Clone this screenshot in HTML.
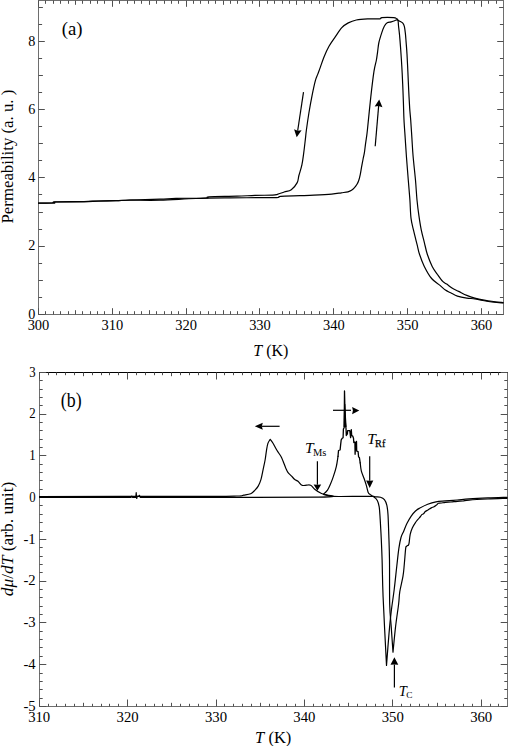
<!DOCTYPE html>
<html><head><meta charset="utf-8"><title>Permeability</title>
<style>html,body{margin:0;padding:0;background:#fff;}body{width:508px;height:746px;overflow:hidden;font-family:"Liberation Serif",serif;}svg{display:block;}</style>
</head><body>
<svg width="508" height="746" viewBox="0 0 508 746" font-family="'Liberation Serif', serif" fill="#000"><rect x="38.5" y="0.5" width="465.0" height="314.0" fill="none" stroke="#6e6e6e" stroke-width="1"/>
<line x1="38.50" y1="314.50" x2="38.50" y2="308.20" stroke="#505050" stroke-width="1"/>
<line x1="38.50" y1="0.50" x2="38.50" y2="6.80" stroke="#505050" stroke-width="1"/>
<line x1="45.50" y1="314.50" x2="45.50" y2="311.20" stroke="#505050" stroke-width="1"/>
<line x1="45.50" y1="0.50" x2="45.50" y2="3.80" stroke="#505050" stroke-width="1"/>
<line x1="53.50" y1="314.50" x2="53.50" y2="311.20" stroke="#505050" stroke-width="1"/>
<line x1="53.50" y1="0.50" x2="53.50" y2="3.80" stroke="#505050" stroke-width="1"/>
<line x1="60.50" y1="314.50" x2="60.50" y2="311.20" stroke="#505050" stroke-width="1"/>
<line x1="60.50" y1="0.50" x2="60.50" y2="3.80" stroke="#505050" stroke-width="1"/>
<line x1="68.50" y1="314.50" x2="68.50" y2="311.20" stroke="#505050" stroke-width="1"/>
<line x1="68.50" y1="0.50" x2="68.50" y2="3.80" stroke="#505050" stroke-width="1"/>
<line x1="75.50" y1="314.50" x2="75.50" y2="310.20" stroke="#505050" stroke-width="1"/>
<line x1="75.50" y1="0.50" x2="75.50" y2="4.80" stroke="#505050" stroke-width="1"/>
<line x1="82.50" y1="314.50" x2="82.50" y2="311.20" stroke="#505050" stroke-width="1"/>
<line x1="82.50" y1="0.50" x2="82.50" y2="3.80" stroke="#505050" stroke-width="1"/>
<line x1="90.50" y1="314.50" x2="90.50" y2="311.20" stroke="#505050" stroke-width="1"/>
<line x1="90.50" y1="0.50" x2="90.50" y2="3.80" stroke="#505050" stroke-width="1"/>
<line x1="97.50" y1="314.50" x2="97.50" y2="311.20" stroke="#505050" stroke-width="1"/>
<line x1="97.50" y1="0.50" x2="97.50" y2="3.80" stroke="#505050" stroke-width="1"/>
<line x1="104.50" y1="314.50" x2="104.50" y2="311.20" stroke="#505050" stroke-width="1"/>
<line x1="104.50" y1="0.50" x2="104.50" y2="3.80" stroke="#505050" stroke-width="1"/>
<line x1="112.50" y1="314.50" x2="112.50" y2="308.20" stroke="#505050" stroke-width="1"/>
<line x1="112.50" y1="0.50" x2="112.50" y2="6.80" stroke="#505050" stroke-width="1"/>
<line x1="119.50" y1="314.50" x2="119.50" y2="311.20" stroke="#505050" stroke-width="1"/>
<line x1="119.50" y1="0.50" x2="119.50" y2="3.80" stroke="#505050" stroke-width="1"/>
<line x1="127.50" y1="314.50" x2="127.50" y2="311.20" stroke="#505050" stroke-width="1"/>
<line x1="127.50" y1="0.50" x2="127.50" y2="3.80" stroke="#505050" stroke-width="1"/>
<line x1="134.50" y1="314.50" x2="134.50" y2="311.20" stroke="#505050" stroke-width="1"/>
<line x1="134.50" y1="0.50" x2="134.50" y2="3.80" stroke="#505050" stroke-width="1"/>
<line x1="141.50" y1="314.50" x2="141.50" y2="311.20" stroke="#505050" stroke-width="1"/>
<line x1="141.50" y1="0.50" x2="141.50" y2="3.80" stroke="#505050" stroke-width="1"/>
<line x1="149.50" y1="314.50" x2="149.50" y2="310.20" stroke="#505050" stroke-width="1"/>
<line x1="149.50" y1="0.50" x2="149.50" y2="4.80" stroke="#505050" stroke-width="1"/>
<line x1="156.50" y1="314.50" x2="156.50" y2="311.20" stroke="#505050" stroke-width="1"/>
<line x1="156.50" y1="0.50" x2="156.50" y2="3.80" stroke="#505050" stroke-width="1"/>
<line x1="164.50" y1="314.50" x2="164.50" y2="311.20" stroke="#505050" stroke-width="1"/>
<line x1="164.50" y1="0.50" x2="164.50" y2="3.80" stroke="#505050" stroke-width="1"/>
<line x1="171.50" y1="314.50" x2="171.50" y2="311.20" stroke="#505050" stroke-width="1"/>
<line x1="171.50" y1="0.50" x2="171.50" y2="3.80" stroke="#505050" stroke-width="1"/>
<line x1="178.50" y1="314.50" x2="178.50" y2="311.20" stroke="#505050" stroke-width="1"/>
<line x1="178.50" y1="0.50" x2="178.50" y2="3.80" stroke="#505050" stroke-width="1"/>
<line x1="186.50" y1="314.50" x2="186.50" y2="308.20" stroke="#505050" stroke-width="1"/>
<line x1="186.50" y1="0.50" x2="186.50" y2="6.80" stroke="#505050" stroke-width="1"/>
<line x1="193.50" y1="314.50" x2="193.50" y2="311.20" stroke="#505050" stroke-width="1"/>
<line x1="193.50" y1="0.50" x2="193.50" y2="3.80" stroke="#505050" stroke-width="1"/>
<line x1="200.50" y1="314.50" x2="200.50" y2="311.20" stroke="#505050" stroke-width="1"/>
<line x1="200.50" y1="0.50" x2="200.50" y2="3.80" stroke="#505050" stroke-width="1"/>
<line x1="208.50" y1="314.50" x2="208.50" y2="311.20" stroke="#505050" stroke-width="1"/>
<line x1="208.50" y1="0.50" x2="208.50" y2="3.80" stroke="#505050" stroke-width="1"/>
<line x1="215.50" y1="314.50" x2="215.50" y2="311.20" stroke="#505050" stroke-width="1"/>
<line x1="215.50" y1="0.50" x2="215.50" y2="3.80" stroke="#505050" stroke-width="1"/>
<line x1="223.50" y1="314.50" x2="223.50" y2="310.20" stroke="#505050" stroke-width="1"/>
<line x1="223.50" y1="0.50" x2="223.50" y2="4.80" stroke="#505050" stroke-width="1"/>
<line x1="230.50" y1="314.50" x2="230.50" y2="311.20" stroke="#505050" stroke-width="1"/>
<line x1="230.50" y1="0.50" x2="230.50" y2="3.80" stroke="#505050" stroke-width="1"/>
<line x1="237.50" y1="314.50" x2="237.50" y2="311.20" stroke="#505050" stroke-width="1"/>
<line x1="237.50" y1="0.50" x2="237.50" y2="3.80" stroke="#505050" stroke-width="1"/>
<line x1="245.50" y1="314.50" x2="245.50" y2="311.20" stroke="#505050" stroke-width="1"/>
<line x1="245.50" y1="0.50" x2="245.50" y2="3.80" stroke="#505050" stroke-width="1"/>
<line x1="252.50" y1="314.50" x2="252.50" y2="311.20" stroke="#505050" stroke-width="1"/>
<line x1="252.50" y1="0.50" x2="252.50" y2="3.80" stroke="#505050" stroke-width="1"/>
<line x1="259.50" y1="314.50" x2="259.50" y2="308.20" stroke="#505050" stroke-width="1"/>
<line x1="259.50" y1="0.50" x2="259.50" y2="6.80" stroke="#505050" stroke-width="1"/>
<line x1="267.50" y1="314.50" x2="267.50" y2="311.20" stroke="#505050" stroke-width="1"/>
<line x1="267.50" y1="0.50" x2="267.50" y2="3.80" stroke="#505050" stroke-width="1"/>
<line x1="274.50" y1="314.50" x2="274.50" y2="311.20" stroke="#505050" stroke-width="1"/>
<line x1="274.50" y1="0.50" x2="274.50" y2="3.80" stroke="#505050" stroke-width="1"/>
<line x1="282.50" y1="314.50" x2="282.50" y2="311.20" stroke="#505050" stroke-width="1"/>
<line x1="282.50" y1="0.50" x2="282.50" y2="3.80" stroke="#505050" stroke-width="1"/>
<line x1="289.50" y1="314.50" x2="289.50" y2="311.20" stroke="#505050" stroke-width="1"/>
<line x1="289.50" y1="0.50" x2="289.50" y2="3.80" stroke="#505050" stroke-width="1"/>
<line x1="296.50" y1="314.50" x2="296.50" y2="310.20" stroke="#505050" stroke-width="1"/>
<line x1="296.50" y1="0.50" x2="296.50" y2="4.80" stroke="#505050" stroke-width="1"/>
<line x1="304.50" y1="314.50" x2="304.50" y2="311.20" stroke="#505050" stroke-width="1"/>
<line x1="304.50" y1="0.50" x2="304.50" y2="3.80" stroke="#505050" stroke-width="1"/>
<line x1="311.50" y1="314.50" x2="311.50" y2="311.20" stroke="#505050" stroke-width="1"/>
<line x1="311.50" y1="0.50" x2="311.50" y2="3.80" stroke="#505050" stroke-width="1"/>
<line x1="319.50" y1="314.50" x2="319.50" y2="311.20" stroke="#505050" stroke-width="1"/>
<line x1="319.50" y1="0.50" x2="319.50" y2="3.80" stroke="#505050" stroke-width="1"/>
<line x1="326.50" y1="314.50" x2="326.50" y2="311.20" stroke="#505050" stroke-width="1"/>
<line x1="326.50" y1="0.50" x2="326.50" y2="3.80" stroke="#505050" stroke-width="1"/>
<line x1="333.50" y1="314.50" x2="333.50" y2="308.20" stroke="#505050" stroke-width="1"/>
<line x1="333.50" y1="0.50" x2="333.50" y2="6.80" stroke="#505050" stroke-width="1"/>
<line x1="341.50" y1="314.50" x2="341.50" y2="311.20" stroke="#505050" stroke-width="1"/>
<line x1="341.50" y1="0.50" x2="341.50" y2="3.80" stroke="#505050" stroke-width="1"/>
<line x1="348.50" y1="314.50" x2="348.50" y2="311.20" stroke="#505050" stroke-width="1"/>
<line x1="348.50" y1="0.50" x2="348.50" y2="3.80" stroke="#505050" stroke-width="1"/>
<line x1="355.50" y1="314.50" x2="355.50" y2="311.20" stroke="#505050" stroke-width="1"/>
<line x1="355.50" y1="0.50" x2="355.50" y2="3.80" stroke="#505050" stroke-width="1"/>
<line x1="363.50" y1="314.50" x2="363.50" y2="311.20" stroke="#505050" stroke-width="1"/>
<line x1="363.50" y1="0.50" x2="363.50" y2="3.80" stroke="#505050" stroke-width="1"/>
<line x1="370.50" y1="314.50" x2="370.50" y2="310.20" stroke="#505050" stroke-width="1"/>
<line x1="370.50" y1="0.50" x2="370.50" y2="4.80" stroke="#505050" stroke-width="1"/>
<line x1="378.50" y1="314.50" x2="378.50" y2="311.20" stroke="#505050" stroke-width="1"/>
<line x1="378.50" y1="0.50" x2="378.50" y2="3.80" stroke="#505050" stroke-width="1"/>
<line x1="385.50" y1="314.50" x2="385.50" y2="311.20" stroke="#505050" stroke-width="1"/>
<line x1="385.50" y1="0.50" x2="385.50" y2="3.80" stroke="#505050" stroke-width="1"/>
<line x1="392.50" y1="314.50" x2="392.50" y2="311.20" stroke="#505050" stroke-width="1"/>
<line x1="392.50" y1="0.50" x2="392.50" y2="3.80" stroke="#505050" stroke-width="1"/>
<line x1="400.50" y1="314.50" x2="400.50" y2="311.20" stroke="#505050" stroke-width="1"/>
<line x1="400.50" y1="0.50" x2="400.50" y2="3.80" stroke="#505050" stroke-width="1"/>
<line x1="407.50" y1="314.50" x2="407.50" y2="308.20" stroke="#505050" stroke-width="1"/>
<line x1="407.50" y1="0.50" x2="407.50" y2="6.80" stroke="#505050" stroke-width="1"/>
<line x1="415.50" y1="314.50" x2="415.50" y2="311.20" stroke="#505050" stroke-width="1"/>
<line x1="415.50" y1="0.50" x2="415.50" y2="3.80" stroke="#505050" stroke-width="1"/>
<line x1="422.50" y1="314.50" x2="422.50" y2="311.20" stroke="#505050" stroke-width="1"/>
<line x1="422.50" y1="0.50" x2="422.50" y2="3.80" stroke="#505050" stroke-width="1"/>
<line x1="429.50" y1="314.50" x2="429.50" y2="311.20" stroke="#505050" stroke-width="1"/>
<line x1="429.50" y1="0.50" x2="429.50" y2="3.80" stroke="#505050" stroke-width="1"/>
<line x1="437.50" y1="314.50" x2="437.50" y2="311.20" stroke="#505050" stroke-width="1"/>
<line x1="437.50" y1="0.50" x2="437.50" y2="3.80" stroke="#505050" stroke-width="1"/>
<line x1="444.50" y1="314.50" x2="444.50" y2="310.20" stroke="#505050" stroke-width="1"/>
<line x1="444.50" y1="0.50" x2="444.50" y2="4.80" stroke="#505050" stroke-width="1"/>
<line x1="451.50" y1="314.50" x2="451.50" y2="311.20" stroke="#505050" stroke-width="1"/>
<line x1="451.50" y1="0.50" x2="451.50" y2="3.80" stroke="#505050" stroke-width="1"/>
<line x1="459.50" y1="314.50" x2="459.50" y2="311.20" stroke="#505050" stroke-width="1"/>
<line x1="459.50" y1="0.50" x2="459.50" y2="3.80" stroke="#505050" stroke-width="1"/>
<line x1="466.50" y1="314.50" x2="466.50" y2="311.20" stroke="#505050" stroke-width="1"/>
<line x1="466.50" y1="0.50" x2="466.50" y2="3.80" stroke="#505050" stroke-width="1"/>
<line x1="474.50" y1="314.50" x2="474.50" y2="311.20" stroke="#505050" stroke-width="1"/>
<line x1="474.50" y1="0.50" x2="474.50" y2="3.80" stroke="#505050" stroke-width="1"/>
<line x1="481.50" y1="314.50" x2="481.50" y2="308.20" stroke="#505050" stroke-width="1"/>
<line x1="481.50" y1="0.50" x2="481.50" y2="6.80" stroke="#505050" stroke-width="1"/>
<line x1="488.50" y1="314.50" x2="488.50" y2="311.20" stroke="#505050" stroke-width="1"/>
<line x1="488.50" y1="0.50" x2="488.50" y2="3.80" stroke="#505050" stroke-width="1"/>
<line x1="496.50" y1="314.50" x2="496.50" y2="311.20" stroke="#505050" stroke-width="1"/>
<line x1="496.50" y1="0.50" x2="496.50" y2="3.80" stroke="#505050" stroke-width="1"/>
<line x1="38.50" y1="314.50" x2="44.80" y2="314.50" stroke="#505050" stroke-width="1"/>
<line x1="503.50" y1="314.50" x2="497.20" y2="314.50" stroke="#505050" stroke-width="1"/>
<line x1="38.50" y1="297.50" x2="42.10" y2="297.50" stroke="#505050" stroke-width="1"/>
<line x1="503.50" y1="297.50" x2="499.90" y2="297.50" stroke="#505050" stroke-width="1"/>
<line x1="38.50" y1="280.50" x2="42.90" y2="280.50" stroke="#505050" stroke-width="1"/>
<line x1="503.50" y1="280.50" x2="499.10" y2="280.50" stroke="#505050" stroke-width="1"/>
<line x1="38.50" y1="263.50" x2="42.10" y2="263.50" stroke="#505050" stroke-width="1"/>
<line x1="503.50" y1="263.50" x2="499.90" y2="263.50" stroke="#505050" stroke-width="1"/>
<line x1="38.50" y1="246.50" x2="44.80" y2="246.50" stroke="#505050" stroke-width="1"/>
<line x1="503.50" y1="246.50" x2="497.20" y2="246.50" stroke="#505050" stroke-width="1"/>
<line x1="38.50" y1="229.50" x2="42.10" y2="229.50" stroke="#505050" stroke-width="1"/>
<line x1="503.50" y1="229.50" x2="499.90" y2="229.50" stroke="#505050" stroke-width="1"/>
<line x1="38.50" y1="212.50" x2="42.90" y2="212.50" stroke="#505050" stroke-width="1"/>
<line x1="503.50" y1="212.50" x2="499.10" y2="212.50" stroke="#505050" stroke-width="1"/>
<line x1="38.50" y1="194.50" x2="42.10" y2="194.50" stroke="#505050" stroke-width="1"/>
<line x1="503.50" y1="194.50" x2="499.90" y2="194.50" stroke="#505050" stroke-width="1"/>
<line x1="38.50" y1="177.50" x2="44.80" y2="177.50" stroke="#505050" stroke-width="1"/>
<line x1="503.50" y1="177.50" x2="497.20" y2="177.50" stroke="#505050" stroke-width="1"/>
<line x1="38.50" y1="160.50" x2="42.10" y2="160.50" stroke="#505050" stroke-width="1"/>
<line x1="503.50" y1="160.50" x2="499.90" y2="160.50" stroke="#505050" stroke-width="1"/>
<line x1="38.50" y1="143.50" x2="42.90" y2="143.50" stroke="#505050" stroke-width="1"/>
<line x1="503.50" y1="143.50" x2="499.10" y2="143.50" stroke="#505050" stroke-width="1"/>
<line x1="38.50" y1="126.50" x2="42.10" y2="126.50" stroke="#505050" stroke-width="1"/>
<line x1="503.50" y1="126.50" x2="499.90" y2="126.50" stroke="#505050" stroke-width="1"/>
<line x1="38.50" y1="109.50" x2="44.80" y2="109.50" stroke="#505050" stroke-width="1"/>
<line x1="503.50" y1="109.50" x2="497.20" y2="109.50" stroke="#505050" stroke-width="1"/>
<line x1="38.50" y1="92.50" x2="42.10" y2="92.50" stroke="#505050" stroke-width="1"/>
<line x1="503.50" y1="92.50" x2="499.90" y2="92.50" stroke="#505050" stroke-width="1"/>
<line x1="38.50" y1="75.50" x2="42.90" y2="75.50" stroke="#505050" stroke-width="1"/>
<line x1="503.50" y1="75.50" x2="499.10" y2="75.50" stroke="#505050" stroke-width="1"/>
<line x1="38.50" y1="58.50" x2="42.10" y2="58.50" stroke="#505050" stroke-width="1"/>
<line x1="503.50" y1="58.50" x2="499.90" y2="58.50" stroke="#505050" stroke-width="1"/>
<line x1="38.50" y1="41.50" x2="44.80" y2="41.50" stroke="#505050" stroke-width="1"/>
<line x1="503.50" y1="41.50" x2="497.20" y2="41.50" stroke="#505050" stroke-width="1"/>
<line x1="38.50" y1="24.50" x2="42.10" y2="24.50" stroke="#505050" stroke-width="1"/>
<line x1="503.50" y1="24.50" x2="499.90" y2="24.50" stroke="#505050" stroke-width="1"/>
<line x1="38.50" y1="7.50" x2="42.90" y2="7.50" stroke="#505050" stroke-width="1"/>
<line x1="503.50" y1="7.50" x2="499.10" y2="7.50" stroke="#505050" stroke-width="1"/>
<text x="38.50" y="329.80" font-size="15.5" text-anchor="middle" textLength="21.7" lengthAdjust="spacingAndGlyphs">300</text>
<text x="112.33" y="329.80" font-size="15.5" text-anchor="middle" textLength="21.7" lengthAdjust="spacingAndGlyphs">310</text>
<text x="186.16" y="329.80" font-size="15.5" text-anchor="middle" textLength="21.7" lengthAdjust="spacingAndGlyphs">320</text>
<text x="259.99" y="329.80" font-size="15.5" text-anchor="middle" textLength="21.7" lengthAdjust="spacingAndGlyphs">330</text>
<text x="333.82" y="329.80" font-size="15.5" text-anchor="middle" textLength="21.7" lengthAdjust="spacingAndGlyphs">340</text>
<text x="407.65" y="329.80" font-size="15.5" text-anchor="middle" textLength="21.7" lengthAdjust="spacingAndGlyphs">350</text>
<text x="481.48" y="329.80" font-size="15.5" text-anchor="middle" textLength="21.7" lengthAdjust="spacingAndGlyphs">360</text>
<text x="35.30" y="318.60" font-size="14.2" text-anchor="end" >0</text>
<text x="35.30" y="250.34" font-size="14.2" text-anchor="end" >2</text>
<text x="35.30" y="182.08" font-size="14.2" text-anchor="end" >4</text>
<text x="35.30" y="113.82" font-size="14.2" text-anchor="end" >6</text>
<text x="35.30" y="45.56" font-size="14.2" text-anchor="end" >8</text>
<text x="61.80" y="34.70" font-size="19.8" text-anchor="start" textLength="20.8" lengthAdjust="spacingAndGlyphs">(a)</text>
<text x="270.80" y="355.70" font-size="16" text-anchor="middle" ><tspan font-style="italic">T</tspan> (K)</text>
<text transform="translate(13.2,156.6) rotate(-90)" font-size="17" text-anchor="middle" textLength="133.8" lengthAdjust="spacingAndGlyphs">Permeability (a. u. )</text>
<path d="M38.50,203.10 C41.08,203.08 51.25,203.22 54.00,203.00 C56.75,202.78 50.00,202.05 55.00,201.80 C60.00,201.55 76.83,201.63 84.00,201.50 C91.17,201.37 92.67,201.13 98.00,201.00 C103.33,200.87 110.67,200.83 116.00,200.70 C121.33,200.57 122.67,200.28 130.00,200.20 C137.33,200.12 149.00,200.48 160.00,200.20 C171.00,199.92 184.33,198.88 196.00,198.50 C207.67,198.12 217.67,198.05 230.00,197.90 C242.33,197.75 261.93,197.67 270.00,197.60 C278.07,197.53 276.63,197.72 278.40,197.50 C280.17,197.28 277.00,196.60 280.60,196.30 C284.20,196.00 294.43,195.88 300.00,195.70 C305.57,195.52 308.72,195.47 314.00,195.20 C319.28,194.93 327.15,194.50 331.70,194.10 C336.25,193.70 338.58,193.18 341.30,192.80 C344.02,192.42 346.30,192.22 348.00,191.80 C349.70,191.38 350.42,191.00 351.50,190.30 C352.58,189.60 353.58,188.60 354.50,187.60 C355.42,186.60 356.28,185.53 357.00,184.30 C357.72,183.07 358.25,181.87 358.80,180.20 C359.35,178.53 359.85,176.43 360.30,174.30 C360.75,172.17 361.05,169.87 361.50,167.40 C361.95,164.93 362.52,161.97 363.00,159.50 C363.48,157.03 364.00,155.05 364.40,152.60 C364.80,150.15 365.07,147.25 365.40,144.80 C365.73,142.35 366.07,140.37 366.40,137.90 C366.73,135.43 366.67,136.83 367.40,130.00 C368.13,123.17 369.70,106.70 370.80,96.90 C371.90,87.10 373.07,77.35 374.00,71.20 C374.93,65.05 375.80,63.23 376.40,60.00 C377.00,56.77 377.18,54.72 377.60,51.80 C378.02,48.88 378.20,45.70 378.90,42.50 C379.60,39.30 380.90,35.32 381.80,32.60 C382.70,29.88 383.40,27.83 384.30,26.20 C385.20,24.57 386.05,23.53 387.20,22.80 C388.35,22.07 389.97,22.13 391.20,21.80 C392.43,21.47 393.63,21.13 394.60,20.80 C395.57,20.47 396.02,19.67 397.00,19.80 C397.98,19.93 399.50,21.02 400.50,21.60 C401.50,22.18 402.35,22.45 403.00,23.30 C403.65,24.15 404.00,24.98 404.40,26.70 C404.80,28.42 405.12,31.03 405.40,33.60 C405.68,36.17 405.83,38.68 406.10,42.10 C406.37,45.52 406.70,49.08 407.00,54.10 C407.30,59.12 407.62,66.17 407.90,72.20 C408.18,78.23 408.40,84.27 408.70,90.30 C409.00,96.33 409.37,103.45 409.70,108.40 C410.03,113.35 410.33,115.05 410.70,120.00 C411.07,124.95 411.50,132.07 411.90,138.10 C412.30,144.13 412.50,149.17 413.10,156.20 C413.70,163.23 414.85,173.00 415.50,180.30 C416.15,187.60 416.43,194.10 417.00,200.00 C417.57,205.90 418.18,210.67 418.90,215.70 C419.62,220.73 420.40,225.77 421.30,230.20 C422.20,234.63 423.30,238.28 424.30,242.30 C425.30,246.32 425.98,250.28 427.30,254.30 C428.62,258.32 430.50,263.03 432.20,266.40 C433.90,269.77 435.75,272.00 437.50,274.50 C439.25,277.00 441.17,279.80 442.70,281.40 C444.23,283.00 445.15,282.98 446.70,284.10 C448.25,285.22 450.00,286.88 452.00,288.10 C454.00,289.32 456.23,290.18 458.70,291.40 C461.17,292.62 464.12,294.28 466.80,295.40 C469.48,296.52 471.90,297.32 474.80,298.10 C477.70,298.88 481.08,299.53 484.20,300.10 C487.32,300.67 490.37,301.08 493.50,301.50 C496.63,301.92 501.42,302.42 503.00,302.60" fill="none" stroke="#000" stroke-width="1.2" stroke-linejoin="round" stroke-linecap="round"/>
<path d="M503.00,302.90 C501.42,302.77 496.87,302.50 493.50,302.10 C490.13,301.70 485.92,301.05 482.80,300.50 C479.68,299.95 477.47,299.20 474.80,298.80 C472.13,298.40 469.70,298.55 466.80,298.10 C463.90,297.65 460.08,296.98 457.40,296.10 C454.72,295.22 452.70,293.80 450.70,292.80 C448.70,291.80 447.18,291.33 445.40,290.10 C443.62,288.87 442.30,287.33 440.00,285.40 C437.70,283.47 434.22,281.67 431.60,278.50 C428.98,275.33 426.32,270.43 424.30,266.40 C422.28,262.37 420.70,257.92 419.50,254.30 C418.30,250.68 418.10,248.72 417.10,244.70 C416.10,240.68 414.52,234.63 413.50,230.20 C412.48,225.77 411.60,223.13 411.00,218.10 C410.40,213.07 410.35,206.30 409.90,200.00 C409.45,193.70 408.88,187.60 408.30,180.30 C407.72,173.00 406.92,163.23 406.40,156.20 C405.88,149.17 405.60,144.13 405.20,138.10 C404.80,132.07 404.30,125.95 404.00,120.00 C403.70,114.05 403.62,108.35 403.40,102.40 C403.18,96.45 402.97,90.33 402.70,84.30 C402.43,78.27 402.15,72.23 401.80,66.20 C401.45,60.17 400.98,53.37 400.60,48.10 C400.22,42.83 399.85,38.33 399.50,34.60 C399.15,30.87 398.75,28.08 398.50,25.70 C398.25,23.32 398.32,21.47 398.00,20.30 C397.68,19.13 397.33,19.13 396.60,18.70 C395.87,18.27 396.07,17.87 393.60,17.70 C391.13,17.53 384.10,17.50 381.80,17.70 C379.50,17.90 382.17,18.70 379.80,18.90 C377.43,19.10 371.52,18.72 367.60,18.90 C363.68,19.08 359.52,19.33 356.30,20.00 C353.08,20.67 350.72,21.62 348.30,22.90 C345.88,24.18 343.95,25.42 341.80,27.70 C339.65,29.98 337.53,33.52 335.40,36.60 C333.27,39.68 330.88,42.85 329.00,46.20 C327.12,49.55 325.58,53.08 324.10,56.70 C322.62,60.32 321.17,64.95 320.10,67.90 C319.03,70.85 318.50,72.25 317.70,74.40 C316.90,76.55 316.23,77.32 315.30,80.80 C314.37,84.28 313.17,89.93 312.10,95.30 C311.03,100.67 309.85,107.22 308.90,113.00 C307.95,118.78 306.98,125.68 306.40,130.00 C305.82,134.32 305.85,135.05 305.40,138.90 C304.95,142.75 304.28,148.77 303.70,153.10 C303.12,157.43 302.70,161.17 301.90,164.90 C301.10,168.63 299.68,172.55 298.90,175.50 C298.12,178.45 298.47,180.23 297.20,182.60 C295.93,184.97 293.47,188.13 291.30,189.70 C289.13,191.27 286.52,191.22 284.20,192.00 C281.88,192.78 279.32,193.88 277.40,194.40 C275.48,194.92 276.43,194.93 272.70,195.10 C268.97,195.27 260.95,195.22 255.00,195.40 C249.05,195.58 244.67,195.97 237.00,196.20 C229.33,196.43 214.17,196.50 209.00,196.80 C203.83,197.10 211.50,197.73 206.00,198.00 C200.50,198.27 183.67,198.20 176.00,198.40 C168.33,198.60 167.67,198.93 160.00,199.20 C152.33,199.47 137.33,199.75 130.00,200.00 C122.67,200.25 121.33,200.50 116.00,200.70 C110.67,200.90 103.33,201.02 98.00,201.20 C92.67,201.38 91.17,201.67 84.00,201.80 C76.83,201.93 60.00,201.80 55.00,202.00 C50.00,202.20 56.75,202.82 54.00,203.00 C51.25,203.18 41.08,203.08 38.50,203.10" fill="none" stroke="#000" stroke-width="1.2" stroke-linejoin="round" stroke-linecap="round"/>
<line x1="303.50" y1="92.10" x2="297.68" y2="130.77" stroke="#000" stroke-width="1.2"/>
<polygon points="296.70,137.30 294.07,129.22 297.68,130.77 301.59,130.35" fill="#000"/>
<line x1="375.20" y1="146.30" x2="378.65" y2="105.88" stroke="#000" stroke-width="1.2"/>
<polygon points="379.20,99.40 382.45,107.20 378.65,105.88 374.68,106.54" fill="#000"/>
<rect x="39.5" y="372.5" width="468.0" height="334.0" fill="none" stroke="#6e6e6e" stroke-width="1"/>
<line x1="39.50" y1="372.50" x2="507.50" y2="372.50" stroke="#000" stroke-width="1"/>
<line x1="39.50" y1="706.50" x2="39.50" y2="699.50" stroke="#505050" stroke-width="1"/>
<line x1="39.50" y1="372.50" x2="39.50" y2="379.50" stroke="#505050" stroke-width="1"/>
<line x1="48.50" y1="706.50" x2="48.50" y2="703.80" stroke="#505050" stroke-width="1"/>
<line x1="48.50" y1="372.50" x2="48.50" y2="375.20" stroke="#505050" stroke-width="1"/>
<line x1="56.50" y1="706.50" x2="56.50" y2="703.80" stroke="#505050" stroke-width="1"/>
<line x1="56.50" y1="372.50" x2="56.50" y2="375.20" stroke="#505050" stroke-width="1"/>
<line x1="65.50" y1="706.50" x2="65.50" y2="703.80" stroke="#505050" stroke-width="1"/>
<line x1="65.50" y1="372.50" x2="65.50" y2="375.20" stroke="#505050" stroke-width="1"/>
<line x1="74.50" y1="706.50" x2="74.50" y2="703.80" stroke="#505050" stroke-width="1"/>
<line x1="74.50" y1="372.50" x2="74.50" y2="375.20" stroke="#505050" stroke-width="1"/>
<line x1="83.50" y1="706.50" x2="83.50" y2="702.80" stroke="#505050" stroke-width="1"/>
<line x1="83.50" y1="372.50" x2="83.50" y2="376.20" stroke="#505050" stroke-width="1"/>
<line x1="92.50" y1="706.50" x2="92.50" y2="703.80" stroke="#505050" stroke-width="1"/>
<line x1="92.50" y1="372.50" x2="92.50" y2="375.20" stroke="#505050" stroke-width="1"/>
<line x1="101.50" y1="706.50" x2="101.50" y2="703.80" stroke="#505050" stroke-width="1"/>
<line x1="101.50" y1="372.50" x2="101.50" y2="375.20" stroke="#505050" stroke-width="1"/>
<line x1="109.50" y1="706.50" x2="109.50" y2="703.80" stroke="#505050" stroke-width="1"/>
<line x1="109.50" y1="372.50" x2="109.50" y2="375.20" stroke="#505050" stroke-width="1"/>
<line x1="118.50" y1="706.50" x2="118.50" y2="703.80" stroke="#505050" stroke-width="1"/>
<line x1="118.50" y1="372.50" x2="118.50" y2="375.20" stroke="#505050" stroke-width="1"/>
<line x1="127.50" y1="706.50" x2="127.50" y2="699.50" stroke="#505050" stroke-width="1"/>
<line x1="127.50" y1="372.50" x2="127.50" y2="379.50" stroke="#505050" stroke-width="1"/>
<line x1="136.50" y1="706.50" x2="136.50" y2="703.80" stroke="#505050" stroke-width="1"/>
<line x1="136.50" y1="372.50" x2="136.50" y2="375.20" stroke="#505050" stroke-width="1"/>
<line x1="145.50" y1="706.50" x2="145.50" y2="703.80" stroke="#505050" stroke-width="1"/>
<line x1="145.50" y1="372.50" x2="145.50" y2="375.20" stroke="#505050" stroke-width="1"/>
<line x1="154.50" y1="706.50" x2="154.50" y2="703.80" stroke="#505050" stroke-width="1"/>
<line x1="154.50" y1="372.50" x2="154.50" y2="375.20" stroke="#505050" stroke-width="1"/>
<line x1="162.50" y1="706.50" x2="162.50" y2="703.80" stroke="#505050" stroke-width="1"/>
<line x1="162.50" y1="372.50" x2="162.50" y2="375.20" stroke="#505050" stroke-width="1"/>
<line x1="171.50" y1="706.50" x2="171.50" y2="702.80" stroke="#505050" stroke-width="1"/>
<line x1="171.50" y1="372.50" x2="171.50" y2="376.20" stroke="#505050" stroke-width="1"/>
<line x1="180.50" y1="706.50" x2="180.50" y2="703.80" stroke="#505050" stroke-width="1"/>
<line x1="180.50" y1="372.50" x2="180.50" y2="375.20" stroke="#505050" stroke-width="1"/>
<line x1="189.50" y1="706.50" x2="189.50" y2="703.80" stroke="#505050" stroke-width="1"/>
<line x1="189.50" y1="372.50" x2="189.50" y2="375.20" stroke="#505050" stroke-width="1"/>
<line x1="198.50" y1="706.50" x2="198.50" y2="703.80" stroke="#505050" stroke-width="1"/>
<line x1="198.50" y1="372.50" x2="198.50" y2="375.20" stroke="#505050" stroke-width="1"/>
<line x1="207.50" y1="706.50" x2="207.50" y2="703.80" stroke="#505050" stroke-width="1"/>
<line x1="207.50" y1="372.50" x2="207.50" y2="375.20" stroke="#505050" stroke-width="1"/>
<line x1="216.50" y1="706.50" x2="216.50" y2="699.50" stroke="#505050" stroke-width="1"/>
<line x1="216.50" y1="372.50" x2="216.50" y2="379.50" stroke="#505050" stroke-width="1"/>
<line x1="224.50" y1="706.50" x2="224.50" y2="703.80" stroke="#505050" stroke-width="1"/>
<line x1="224.50" y1="372.50" x2="224.50" y2="375.20" stroke="#505050" stroke-width="1"/>
<line x1="233.50" y1="706.50" x2="233.50" y2="703.80" stroke="#505050" stroke-width="1"/>
<line x1="233.50" y1="372.50" x2="233.50" y2="375.20" stroke="#505050" stroke-width="1"/>
<line x1="242.50" y1="706.50" x2="242.50" y2="703.80" stroke="#505050" stroke-width="1"/>
<line x1="242.50" y1="372.50" x2="242.50" y2="375.20" stroke="#505050" stroke-width="1"/>
<line x1="251.50" y1="706.50" x2="251.50" y2="703.80" stroke="#505050" stroke-width="1"/>
<line x1="251.50" y1="372.50" x2="251.50" y2="375.20" stroke="#505050" stroke-width="1"/>
<line x1="260.50" y1="706.50" x2="260.50" y2="702.80" stroke="#505050" stroke-width="1"/>
<line x1="260.50" y1="372.50" x2="260.50" y2="376.20" stroke="#505050" stroke-width="1"/>
<line x1="269.50" y1="706.50" x2="269.50" y2="703.80" stroke="#505050" stroke-width="1"/>
<line x1="269.50" y1="372.50" x2="269.50" y2="375.20" stroke="#505050" stroke-width="1"/>
<line x1="277.50" y1="706.50" x2="277.50" y2="703.80" stroke="#505050" stroke-width="1"/>
<line x1="277.50" y1="372.50" x2="277.50" y2="375.20" stroke="#505050" stroke-width="1"/>
<line x1="286.50" y1="706.50" x2="286.50" y2="703.80" stroke="#505050" stroke-width="1"/>
<line x1="286.50" y1="372.50" x2="286.50" y2="375.20" stroke="#505050" stroke-width="1"/>
<line x1="295.50" y1="706.50" x2="295.50" y2="703.80" stroke="#505050" stroke-width="1"/>
<line x1="295.50" y1="372.50" x2="295.50" y2="375.20" stroke="#505050" stroke-width="1"/>
<line x1="304.50" y1="706.50" x2="304.50" y2="699.50" stroke="#505050" stroke-width="1"/>
<line x1="304.50" y1="372.50" x2="304.50" y2="379.50" stroke="#505050" stroke-width="1"/>
<line x1="313.50" y1="706.50" x2="313.50" y2="703.80" stroke="#505050" stroke-width="1"/>
<line x1="313.50" y1="372.50" x2="313.50" y2="375.20" stroke="#505050" stroke-width="1"/>
<line x1="322.50" y1="706.50" x2="322.50" y2="703.80" stroke="#505050" stroke-width="1"/>
<line x1="322.50" y1="372.50" x2="322.50" y2="375.20" stroke="#505050" stroke-width="1"/>
<line x1="330.50" y1="706.50" x2="330.50" y2="703.80" stroke="#505050" stroke-width="1"/>
<line x1="330.50" y1="372.50" x2="330.50" y2="375.20" stroke="#505050" stroke-width="1"/>
<line x1="339.50" y1="706.50" x2="339.50" y2="703.80" stroke="#505050" stroke-width="1"/>
<line x1="339.50" y1="372.50" x2="339.50" y2="375.20" stroke="#505050" stroke-width="1"/>
<line x1="348.50" y1="706.50" x2="348.50" y2="702.80" stroke="#505050" stroke-width="1"/>
<line x1="348.50" y1="372.50" x2="348.50" y2="376.20" stroke="#505050" stroke-width="1"/>
<line x1="357.50" y1="706.50" x2="357.50" y2="703.80" stroke="#505050" stroke-width="1"/>
<line x1="357.50" y1="372.50" x2="357.50" y2="375.20" stroke="#505050" stroke-width="1"/>
<line x1="366.50" y1="706.50" x2="366.50" y2="703.80" stroke="#505050" stroke-width="1"/>
<line x1="366.50" y1="372.50" x2="366.50" y2="375.20" stroke="#505050" stroke-width="1"/>
<line x1="375.50" y1="706.50" x2="375.50" y2="703.80" stroke="#505050" stroke-width="1"/>
<line x1="375.50" y1="372.50" x2="375.50" y2="375.20" stroke="#505050" stroke-width="1"/>
<line x1="383.50" y1="706.50" x2="383.50" y2="703.80" stroke="#505050" stroke-width="1"/>
<line x1="383.50" y1="372.50" x2="383.50" y2="375.20" stroke="#505050" stroke-width="1"/>
<line x1="392.50" y1="706.50" x2="392.50" y2="699.50" stroke="#505050" stroke-width="1"/>
<line x1="392.50" y1="372.50" x2="392.50" y2="379.50" stroke="#505050" stroke-width="1"/>
<line x1="401.50" y1="706.50" x2="401.50" y2="703.80" stroke="#505050" stroke-width="1"/>
<line x1="401.50" y1="372.50" x2="401.50" y2="375.20" stroke="#505050" stroke-width="1"/>
<line x1="410.50" y1="706.50" x2="410.50" y2="703.80" stroke="#505050" stroke-width="1"/>
<line x1="410.50" y1="372.50" x2="410.50" y2="375.20" stroke="#505050" stroke-width="1"/>
<line x1="419.50" y1="706.50" x2="419.50" y2="703.80" stroke="#505050" stroke-width="1"/>
<line x1="419.50" y1="372.50" x2="419.50" y2="375.20" stroke="#505050" stroke-width="1"/>
<line x1="428.50" y1="706.50" x2="428.50" y2="703.80" stroke="#505050" stroke-width="1"/>
<line x1="428.50" y1="372.50" x2="428.50" y2="375.20" stroke="#505050" stroke-width="1"/>
<line x1="437.50" y1="706.50" x2="437.50" y2="702.80" stroke="#505050" stroke-width="1"/>
<line x1="437.50" y1="372.50" x2="437.50" y2="376.20" stroke="#505050" stroke-width="1"/>
<line x1="445.50" y1="706.50" x2="445.50" y2="703.80" stroke="#505050" stroke-width="1"/>
<line x1="445.50" y1="372.50" x2="445.50" y2="375.20" stroke="#505050" stroke-width="1"/>
<line x1="454.50" y1="706.50" x2="454.50" y2="703.80" stroke="#505050" stroke-width="1"/>
<line x1="454.50" y1="372.50" x2="454.50" y2="375.20" stroke="#505050" stroke-width="1"/>
<line x1="463.50" y1="706.50" x2="463.50" y2="703.80" stroke="#505050" stroke-width="1"/>
<line x1="463.50" y1="372.50" x2="463.50" y2="375.20" stroke="#505050" stroke-width="1"/>
<line x1="472.50" y1="706.50" x2="472.50" y2="703.80" stroke="#505050" stroke-width="1"/>
<line x1="472.50" y1="372.50" x2="472.50" y2="375.20" stroke="#505050" stroke-width="1"/>
<line x1="481.50" y1="706.50" x2="481.50" y2="699.50" stroke="#505050" stroke-width="1"/>
<line x1="481.50" y1="372.50" x2="481.50" y2="379.50" stroke="#505050" stroke-width="1"/>
<line x1="490.50" y1="706.50" x2="490.50" y2="703.80" stroke="#505050" stroke-width="1"/>
<line x1="490.50" y1="372.50" x2="490.50" y2="375.20" stroke="#505050" stroke-width="1"/>
<line x1="498.50" y1="706.50" x2="498.50" y2="703.80" stroke="#505050" stroke-width="1"/>
<line x1="498.50" y1="372.50" x2="498.50" y2="375.20" stroke="#505050" stroke-width="1"/>
<line x1="39.50" y1="706.50" x2="46.30" y2="706.50" stroke="#505050" stroke-width="1"/>
<line x1="507.50" y1="706.50" x2="500.70" y2="706.50" stroke="#505050" stroke-width="1"/>
<line x1="39.50" y1="698.50" x2="42.70" y2="698.50" stroke="#505050" stroke-width="1"/>
<line x1="507.50" y1="698.50" x2="504.30" y2="698.50" stroke="#505050" stroke-width="1"/>
<line x1="39.50" y1="689.50" x2="42.70" y2="689.50" stroke="#505050" stroke-width="1"/>
<line x1="507.50" y1="689.50" x2="504.30" y2="689.50" stroke="#505050" stroke-width="1"/>
<line x1="39.50" y1="681.50" x2="42.70" y2="681.50" stroke="#505050" stroke-width="1"/>
<line x1="507.50" y1="681.50" x2="504.30" y2="681.50" stroke="#505050" stroke-width="1"/>
<line x1="39.50" y1="673.50" x2="42.70" y2="673.50" stroke="#505050" stroke-width="1"/>
<line x1="507.50" y1="673.50" x2="504.30" y2="673.50" stroke="#505050" stroke-width="1"/>
<line x1="39.50" y1="664.50" x2="46.30" y2="664.50" stroke="#505050" stroke-width="1"/>
<line x1="507.50" y1="664.50" x2="500.70" y2="664.50" stroke="#505050" stroke-width="1"/>
<line x1="39.50" y1="656.50" x2="42.70" y2="656.50" stroke="#505050" stroke-width="1"/>
<line x1="507.50" y1="656.50" x2="504.30" y2="656.50" stroke="#505050" stroke-width="1"/>
<line x1="39.50" y1="647.50" x2="42.70" y2="647.50" stroke="#505050" stroke-width="1"/>
<line x1="507.50" y1="647.50" x2="504.30" y2="647.50" stroke="#505050" stroke-width="1"/>
<line x1="39.50" y1="639.50" x2="42.70" y2="639.50" stroke="#505050" stroke-width="1"/>
<line x1="507.50" y1="639.50" x2="504.30" y2="639.50" stroke="#505050" stroke-width="1"/>
<line x1="39.50" y1="631.50" x2="42.70" y2="631.50" stroke="#505050" stroke-width="1"/>
<line x1="507.50" y1="631.50" x2="504.30" y2="631.50" stroke="#505050" stroke-width="1"/>
<line x1="39.50" y1="622.50" x2="46.30" y2="622.50" stroke="#505050" stroke-width="1"/>
<line x1="507.50" y1="622.50" x2="500.70" y2="622.50" stroke="#505050" stroke-width="1"/>
<line x1="39.50" y1="614.50" x2="42.70" y2="614.50" stroke="#505050" stroke-width="1"/>
<line x1="507.50" y1="614.50" x2="504.30" y2="614.50" stroke="#505050" stroke-width="1"/>
<line x1="39.50" y1="606.50" x2="42.70" y2="606.50" stroke="#505050" stroke-width="1"/>
<line x1="507.50" y1="606.50" x2="504.30" y2="606.50" stroke="#505050" stroke-width="1"/>
<line x1="39.50" y1="597.50" x2="42.70" y2="597.50" stroke="#505050" stroke-width="1"/>
<line x1="507.50" y1="597.50" x2="504.30" y2="597.50" stroke="#505050" stroke-width="1"/>
<line x1="39.50" y1="589.50" x2="42.70" y2="589.50" stroke="#505050" stroke-width="1"/>
<line x1="507.50" y1="589.50" x2="504.30" y2="589.50" stroke="#505050" stroke-width="1"/>
<line x1="39.50" y1="581.50" x2="46.30" y2="581.50" stroke="#505050" stroke-width="1"/>
<line x1="507.50" y1="581.50" x2="500.70" y2="581.50" stroke="#505050" stroke-width="1"/>
<line x1="39.50" y1="572.50" x2="42.70" y2="572.50" stroke="#505050" stroke-width="1"/>
<line x1="507.50" y1="572.50" x2="504.30" y2="572.50" stroke="#505050" stroke-width="1"/>
<line x1="39.50" y1="564.50" x2="42.70" y2="564.50" stroke="#505050" stroke-width="1"/>
<line x1="507.50" y1="564.50" x2="504.30" y2="564.50" stroke="#505050" stroke-width="1"/>
<line x1="39.50" y1="556.50" x2="42.70" y2="556.50" stroke="#505050" stroke-width="1"/>
<line x1="507.50" y1="556.50" x2="504.30" y2="556.50" stroke="#505050" stroke-width="1"/>
<line x1="39.50" y1="547.50" x2="42.70" y2="547.50" stroke="#505050" stroke-width="1"/>
<line x1="507.50" y1="547.50" x2="504.30" y2="547.50" stroke="#505050" stroke-width="1"/>
<line x1="39.50" y1="539.50" x2="46.30" y2="539.50" stroke="#505050" stroke-width="1"/>
<line x1="507.50" y1="539.50" x2="500.70" y2="539.50" stroke="#505050" stroke-width="1"/>
<line x1="39.50" y1="531.50" x2="42.70" y2="531.50" stroke="#505050" stroke-width="1"/>
<line x1="507.50" y1="531.50" x2="504.30" y2="531.50" stroke="#505050" stroke-width="1"/>
<line x1="39.50" y1="522.50" x2="42.70" y2="522.50" stroke="#505050" stroke-width="1"/>
<line x1="507.50" y1="522.50" x2="504.30" y2="522.50" stroke="#505050" stroke-width="1"/>
<line x1="39.50" y1="514.50" x2="42.70" y2="514.50" stroke="#505050" stroke-width="1"/>
<line x1="507.50" y1="514.50" x2="504.30" y2="514.50" stroke="#505050" stroke-width="1"/>
<line x1="39.50" y1="505.50" x2="42.70" y2="505.50" stroke="#505050" stroke-width="1"/>
<line x1="507.50" y1="505.50" x2="504.30" y2="505.50" stroke="#505050" stroke-width="1"/>
<line x1="39.50" y1="497.50" x2="46.30" y2="497.50" stroke="#505050" stroke-width="1"/>
<line x1="507.50" y1="497.50" x2="500.70" y2="497.50" stroke="#505050" stroke-width="1"/>
<line x1="39.50" y1="489.50" x2="42.70" y2="489.50" stroke="#505050" stroke-width="1"/>
<line x1="507.50" y1="489.50" x2="504.30" y2="489.50" stroke="#505050" stroke-width="1"/>
<line x1="39.50" y1="480.50" x2="42.70" y2="480.50" stroke="#505050" stroke-width="1"/>
<line x1="507.50" y1="480.50" x2="504.30" y2="480.50" stroke="#505050" stroke-width="1"/>
<line x1="39.50" y1="472.50" x2="42.70" y2="472.50" stroke="#505050" stroke-width="1"/>
<line x1="507.50" y1="472.50" x2="504.30" y2="472.50" stroke="#505050" stroke-width="1"/>
<line x1="39.50" y1="464.50" x2="42.70" y2="464.50" stroke="#505050" stroke-width="1"/>
<line x1="507.50" y1="464.50" x2="504.30" y2="464.50" stroke="#505050" stroke-width="1"/>
<line x1="39.50" y1="455.50" x2="46.30" y2="455.50" stroke="#505050" stroke-width="1"/>
<line x1="507.50" y1="455.50" x2="500.70" y2="455.50" stroke="#505050" stroke-width="1"/>
<line x1="39.50" y1="447.50" x2="42.70" y2="447.50" stroke="#505050" stroke-width="1"/>
<line x1="507.50" y1="447.50" x2="504.30" y2="447.50" stroke="#505050" stroke-width="1"/>
<line x1="39.50" y1="439.50" x2="42.70" y2="439.50" stroke="#505050" stroke-width="1"/>
<line x1="507.50" y1="439.50" x2="504.30" y2="439.50" stroke="#505050" stroke-width="1"/>
<line x1="39.50" y1="430.50" x2="42.70" y2="430.50" stroke="#505050" stroke-width="1"/>
<line x1="507.50" y1="430.50" x2="504.30" y2="430.50" stroke="#505050" stroke-width="1"/>
<line x1="39.50" y1="422.50" x2="42.70" y2="422.50" stroke="#505050" stroke-width="1"/>
<line x1="507.50" y1="422.50" x2="504.30" y2="422.50" stroke="#505050" stroke-width="1"/>
<line x1="39.50" y1="414.50" x2="46.30" y2="414.50" stroke="#505050" stroke-width="1"/>
<line x1="507.50" y1="414.50" x2="500.70" y2="414.50" stroke="#505050" stroke-width="1"/>
<line x1="39.50" y1="405.50" x2="42.70" y2="405.50" stroke="#505050" stroke-width="1"/>
<line x1="507.50" y1="405.50" x2="504.30" y2="405.50" stroke="#505050" stroke-width="1"/>
<line x1="39.50" y1="397.50" x2="42.70" y2="397.50" stroke="#505050" stroke-width="1"/>
<line x1="507.50" y1="397.50" x2="504.30" y2="397.50" stroke="#505050" stroke-width="1"/>
<line x1="39.50" y1="389.50" x2="42.70" y2="389.50" stroke="#505050" stroke-width="1"/>
<line x1="507.50" y1="389.50" x2="504.30" y2="389.50" stroke="#505050" stroke-width="1"/>
<line x1="39.50" y1="380.50" x2="42.70" y2="380.50" stroke="#505050" stroke-width="1"/>
<line x1="507.50" y1="380.50" x2="504.30" y2="380.50" stroke="#505050" stroke-width="1"/>
<line x1="39.50" y1="372.50" x2="46.30" y2="372.50" stroke="#505050" stroke-width="1"/>
<line x1="507.50" y1="372.50" x2="500.70" y2="372.50" stroke="#505050" stroke-width="1"/>
<text x="39.20" y="721.70" font-size="15.6" text-anchor="middle" textLength="22.1" lengthAdjust="spacingAndGlyphs">310</text>
<text x="127.60" y="721.70" font-size="15.6" text-anchor="middle" textLength="22.1" lengthAdjust="spacingAndGlyphs">320</text>
<text x="216.00" y="721.70" font-size="15.6" text-anchor="middle" textLength="22.1" lengthAdjust="spacingAndGlyphs">330</text>
<text x="304.40" y="721.70" font-size="15.6" text-anchor="middle" textLength="22.1" lengthAdjust="spacingAndGlyphs">340</text>
<text x="392.80" y="721.70" font-size="15.6" text-anchor="middle" textLength="22.1" lengthAdjust="spacingAndGlyphs">350</text>
<text x="481.20" y="721.70" font-size="15.6" text-anchor="middle" textLength="22.1" lengthAdjust="spacingAndGlyphs">360</text>
<text x="35.60" y="376.70" font-size="15.5" text-anchor="end" textLength="6.4" lengthAdjust="spacingAndGlyphs">3</text>
<text x="35.60" y="418.45" font-size="15.5" text-anchor="end" textLength="6.4" lengthAdjust="spacingAndGlyphs">2</text>
<text x="35.60" y="460.20" font-size="15.5" text-anchor="end" textLength="6.4" lengthAdjust="spacingAndGlyphs">1</text>
<text x="35.60" y="501.95" font-size="15.5" text-anchor="end" textLength="6.4" lengthAdjust="spacingAndGlyphs">0</text>
<text x="35.60" y="543.70" font-size="15.5" text-anchor="end" textLength="12.2" lengthAdjust="spacingAndGlyphs">-1</text>
<text x="35.60" y="585.45" font-size="15.5" text-anchor="end" textLength="12.2" lengthAdjust="spacingAndGlyphs">-2</text>
<text x="35.60" y="627.20" font-size="15.5" text-anchor="end" textLength="12.2" lengthAdjust="spacingAndGlyphs">-3</text>
<text x="35.60" y="668.95" font-size="15.5" text-anchor="end" textLength="12.2" lengthAdjust="spacingAndGlyphs">-4</text>
<text x="35.60" y="710.70" font-size="15.5" text-anchor="end" textLength="12.2" lengthAdjust="spacingAndGlyphs">-5</text>
<text x="60.80" y="407.40" font-size="22" text-anchor="start" textLength="20.8" lengthAdjust="spacingAndGlyphs">(b)</text>
<text x="273.20" y="742.50" font-size="16.5" text-anchor="middle" ><tspan font-style="italic">T</tspan> (K)</text>
<text transform="translate(12.9,539) rotate(-90)" font-size="16.5" text-anchor="middle" textLength="114.6" lengthAdjust="spacingAndGlyphs"><tspan font-style="italic">d&#956;</tspan>/<tspan font-style="italic">dT</tspan> (arb. unit)</text>
<path d="M39.50,496.50 C66.25,496.48 167.10,496.48 200.00,496.40 C232.90,496.32 229.60,496.22 236.90,496.00 C244.20,495.78 241.50,495.48 243.80,495.10 C246.10,494.72 248.87,494.50 250.70,493.70 C252.53,492.90 253.55,491.57 254.80,490.30 C256.05,489.03 257.17,487.93 258.20,486.10 C259.23,484.27 260.18,482.05 261.00,479.30 C261.82,476.55 262.42,472.82 263.10,469.60 C263.78,466.38 264.53,463.22 265.10,460.00 C265.67,456.78 266.03,453.07 266.50,450.30 C266.97,447.53 267.28,445.23 267.90,443.40 C268.52,441.57 269.82,439.98 270.20,439.30 C270.62,439.87 271.58,440.87 272.70,442.70 C273.82,444.53 275.52,448.00 276.90,450.30 C278.28,452.60 279.97,454.67 281.00,456.50 C282.03,458.33 282.30,459.35 283.10,461.30 C283.90,463.25 285.00,466.35 285.80,468.20 C286.60,470.05 286.98,471.13 287.90,472.40 C288.82,473.67 290.15,474.62 291.30,475.80 C292.45,476.98 293.68,478.58 294.80,479.50 C295.92,480.42 296.82,480.33 298.00,481.30 C299.18,482.27 300.43,484.67 301.90,485.30 C303.37,485.93 305.33,485.10 306.80,485.10 C308.27,485.10 309.38,484.62 310.70,485.30 C312.02,485.98 313.05,487.90 314.70,489.20 C316.35,490.50 319.13,492.28 320.60,493.10 C322.07,493.92 321.93,493.60 323.50,494.10 C325.07,494.60 327.25,495.70 330.00,496.10 C332.75,496.50 333.43,496.47 340.00,496.50 C346.57,496.53 363.70,496.17 369.40,496.30 C375.10,496.43 372.88,496.60 374.20,497.30 C375.52,498.00 376.47,498.92 377.30,500.50 C378.13,502.08 378.72,503.65 379.20,506.80 C379.68,509.95 379.85,513.90 380.20,519.40 C380.55,524.90 380.98,533.03 381.30,539.80 C381.62,546.57 381.80,550.48 382.10,560.00 C382.40,569.52 382.37,579.32 383.10,596.90 C383.83,614.48 385.93,654.07 386.50,665.50 C386.92,660.20 388.22,642.68 389.00,633.70 C389.78,624.72 390.33,618.97 391.20,611.60 C392.07,604.23 393.27,597.10 394.20,589.50 C395.13,581.90 396.02,572.88 396.80,566.00 C397.58,559.12 398.20,552.95 398.90,548.20 C399.60,543.45 400.20,540.33 401.00,537.50 C401.80,534.67 402.72,533.52 403.70,531.20 C404.68,528.88 405.65,526.12 406.90,523.60 C408.15,521.08 409.77,518.20 411.20,516.10 C412.63,514.00 414.13,512.30 415.50,511.00 C416.87,509.70 417.37,509.43 419.40,508.30 C421.43,507.17 424.93,505.28 427.70,504.20 C430.47,503.12 433.05,502.35 436.00,501.80 C438.95,501.25 441.87,501.20 445.40,500.90 C448.93,500.60 453.27,500.33 457.20,500.00 C461.13,499.67 463.87,499.25 469.00,498.90 C474.13,498.55 481.67,498.17 488.00,497.90 C494.33,497.63 503.83,497.40 507.00,497.30" fill="none" stroke="#000" stroke-width="1.2" stroke-linejoin="round" stroke-linecap="round"/>
<path d="M39.50,497.30 C54.75,497.30 115.75,497.30 131.00,497.30 C131.13,497.12 131.67,496.38 131.80,496.20 C131.93,496.38 132.47,497.12 132.60,497.30 C133.13,497.30 135.27,497.30 135.80,497.30 C135.87,496.53 136.13,493.47 136.20,492.70 C136.28,493.67 136.62,497.53 136.70,498.50 C136.78,498.17 137.12,496.83 137.20,496.50 C137.43,496.45 138.23,496.40 138.60,496.20 C138.97,496.00 139.27,495.45 139.40,495.30 C139.53,495.63 140.07,496.97 140.20,497.30 C169.93,497.27 288.05,497.63 318.60,497.10 C349.15,496.57 322.02,495.25 323.50,494.10 C324.98,492.95 326.35,491.83 327.50,490.20 C328.65,488.57 329.42,486.60 330.40,484.30 C331.38,482.00 332.42,479.35 333.40,476.40 C334.38,473.45 335.53,469.93 336.30,466.60 C337.07,463.27 337.72,458.10 338.00,456.40" fill="none" stroke="#000" stroke-width="1.2" stroke-linejoin="round" stroke-linecap="round"/>
<polyline points="338.00,456.40 338.50,450.50 340.10,450.00 340.70,444.10 341.20,439.80 342.30,438.20 343.10,437.70 343.40,429.10 344.20,427.50 344.50,391.00 345.20,420.00 345.60,426.00 346.00,428.00 346.30,435.50 347.40,433.90 347.60,430.70 349.80,430.70 350.60,437.70 351.30,429.60 351.70,435.50 352.70,436.10 353.50,438.20 353.80,442.50 354.90,442.00 355.10,454.30 355.60,445.00 356.50,441.40 356.70,451.10 358.10,451.60 358.60,457.00 359.40,457.50 360.20,462.80" fill="none" stroke="#000" stroke-width="1.3" stroke-linejoin="round" stroke-linecap="round"/>
<path d="M360.20,462.80 C360.38,464.13 360.63,468.13 361.30,470.80 C361.97,473.47 363.35,476.33 364.20,478.80 C365.05,481.27 365.73,483.33 366.40,485.60 C367.07,487.87 367.53,490.88 368.20,492.40 C368.87,493.92 369.37,493.98 370.40,494.70 C371.43,495.42 372.72,496.27 374.40,496.70 C376.08,497.13 378.83,496.80 380.50,497.30 C382.17,497.80 383.35,498.38 384.40,499.70 C385.45,501.02 386.20,502.72 386.80,505.20 C387.40,507.68 387.67,509.62 388.00,514.60 C388.33,519.58 388.55,527.53 388.80,535.10 C389.05,542.67 389.35,548.48 389.50,560.00 C389.65,571.52 389.42,593.13 389.70,604.20 C389.98,615.27 390.65,618.40 391.20,626.40 C391.75,634.40 392.70,647.90 393.00,652.20 C393.43,647.90 394.67,634.40 395.60,626.40 C396.53,618.40 397.90,609.98 398.60,604.20 C399.30,598.42 399.07,596.37 399.80,591.70 C400.53,587.03 402.25,580.77 403.00,576.20 C403.75,571.63 403.85,568.97 404.30,564.30 C404.75,559.63 405.32,551.17 405.70,548.20 C406.08,545.23 406.30,546.95 406.60,546.50 C406.90,546.05 407.20,545.72 407.50,545.50 C407.80,545.28 408.13,545.63 408.40,545.20 C408.67,544.77 408.80,544.72 409.10,542.90 C409.40,541.08 409.67,536.80 410.20,534.30 C410.73,531.80 411.42,529.87 412.30,527.90 C413.18,525.93 414.55,523.93 415.50,522.50 C416.45,521.07 417.17,520.30 418.00,519.30 C418.83,518.30 419.87,517.28 420.50,516.50 C421.13,515.72 421.30,515.05 421.80,514.60 C422.30,514.15 422.92,514.32 423.50,513.80 C424.08,513.28 424.55,512.13 425.30,511.50 C426.05,510.87 427.00,510.60 428.00,510.00 C429.00,509.40 430.30,508.43 431.30,507.90 C432.30,507.37 433.22,507.23 434.00,506.80 C434.78,506.37 435.50,505.67 436.00,505.30 C436.50,504.93 436.62,504.95 437.00,504.60 C437.38,504.25 437.63,503.47 438.30,503.20 C438.97,502.93 439.82,503.13 441.00,503.00 C442.18,502.87 443.73,502.57 445.40,502.40 C447.07,502.23 449.03,502.18 451.00,502.00 C452.97,501.82 455.20,501.47 457.20,501.30 C459.20,501.13 461.03,501.20 463.00,501.00 C464.97,500.80 464.83,500.43 469.00,500.10 C473.17,499.77 481.67,499.30 488.00,499.00 C494.33,498.70 503.83,498.42 507.00,498.30" fill="none" stroke="#000" stroke-width="1.2" stroke-linejoin="round" stroke-linecap="round"/>
<polygon points="344.1,404 345.3,404 346.6,427 343.6,427" fill="#000"/>
<line x1="279.60" y1="426.30" x2="261.80" y2="426.30" stroke="#000" stroke-width="1.2"/>
<polygon points="254.80,426.30 262.80,422.80 261.80,426.30 262.80,429.80" fill="#000"/>
<line x1="333.00" y1="410.30" x2="351.00" y2="410.30" stroke="#000" stroke-width="1.2"/>
<polygon points="352.1,406.9 359.3,410.5 352.1,414.3 352.9,410.5" fill="#000"/>
<line x1="317.40" y1="461.20" x2="317.40" y2="484.70" stroke="#000" stroke-width="1.2"/>
<polygon points="317.40,490.70 313.60,484.40 317.40,484.70 321.20,484.40" fill="#000"/>
<line x1="369.70" y1="456.30" x2="369.70" y2="480.80" stroke="#000" stroke-width="1.2"/>
<polygon points="369.70,487.90 366.10,480.50 369.70,480.80 373.30,480.50" fill="#000"/>
<line x1="394.40" y1="687.40" x2="394.40" y2="664.50" stroke="#000" stroke-width="1.2"/>
<polygon points="394.40,657.20 398.30,664.80 394.40,664.50 390.50,664.80" fill="#000"/>
<text x="305.00" y="452.60" font-size="15.5" text-anchor="start" ><tspan font-style="italic">T</tspan></text>
<text x="313.00" y="455.70" font-size="10.5" text-anchor="start" >Ms</text>
<text x="367.30" y="443.90" font-size="15.5" text-anchor="start" ><tspan font-style="italic">T</tspan></text>
<text x="375.10" y="446.70" font-size="11" text-anchor="start" textLength="10.3" lengthAdjust="spacingAndGlyphs" stroke="#000" stroke-width="0.25">Rf</text>
<text x="398.70" y="695.70" font-size="14.5" text-anchor="start" ><tspan font-style="italic">T</tspan></text>
<text x="406.20" y="697.70" font-size="8.8" text-anchor="start" textLength="6.2" lengthAdjust="spacingAndGlyphs">C</text></svg>
</body></html>
